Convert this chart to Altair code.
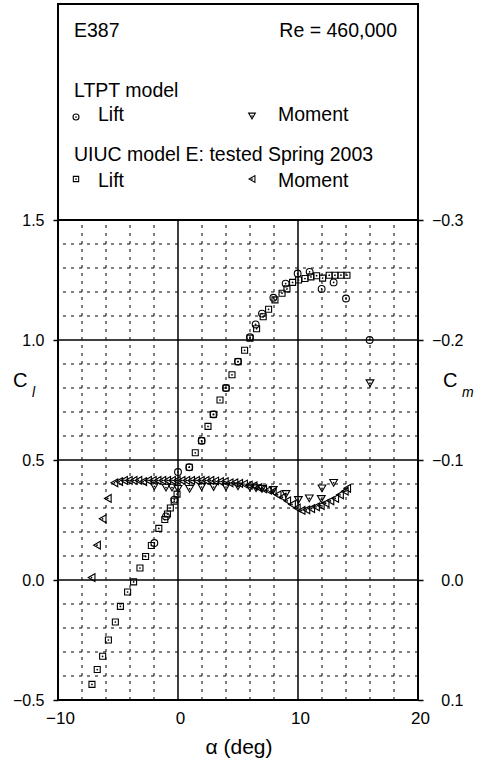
import altair as alt
import pandas as pd

FONT = "Liberation Sans"

# ---------------- data ----------------
uiuc_lift_alpha = [-7.17, -6.73, -6.28, -5.80, -5.22, -4.80, -4.20, -3.70, -3.17, -2.70,
                   -2.22, -1.60, -1.10, -0.88, -0.64, -0.32, -0.08, 0.94, 1.44, 1.97,
                   2.50, 2.94, 3.50, 4.00, 4.50, 5.00, 5.55, 6.00, 6.55, 7.10,
                   7.55, 8.08, 8.67, 9.08, 9.55, 10.05, 10.58, 11.08, 11.55, 12.05,
                   12.60, 13.08, 13.58, 14.08]
uiuc_lift_cl = [-0.435, -0.373, -0.318, -0.250, -0.175, -0.110, -0.050, -0.008, 0.050, 0.098,
                0.144, 0.215, 0.252, 0.275, 0.300, 0.328, 0.358, 0.470, 0.530, 0.580,
                0.640, 0.690, 0.750, 0.800, 0.855, 0.910, 0.957, 1.008, 1.047, 1.097,
                1.128, 1.167, 1.195, 1.213, 1.240, 1.250, 1.256, 1.263, 1.268, 1.258,
                1.270, 1.270, 1.270, 1.270]

ltpt_lift_alpha = [-1.97, -1.00, -0.30, 0.00, 0.94, 1.97, 2.97, 4.00, 5.00, 6.00,
                   6.47, 7.00, 7.95, 8.97, 9.97, 10.97, 11.97, 12.97, 14.00, 15.97]
ltpt_lift_cl = [0.154, 0.265, 0.335, 0.450, 0.470, 0.580, 0.690, 0.800, 0.910, 1.012,
                1.065, 1.110, 1.176, 1.235, 1.277, 1.284, 1.213, 1.240, 1.173, 1.000]

ltpt_mom_alpha = [-1.97, -1.00, -0.50, 0.00, 0.97, 1.97, 2.97, 4.00, 5.00, 6.00,
                  6.50, 7.00, 7.94, 9.00, 10.03, 10.94, 11.94, 12.00, 12.97, 16.00]
ltpt_mom_cm = [-0.078, -0.077, -0.077, -0.076, -0.076, -0.0775, -0.0775, -0.0775, -0.078, -0.077,
               -0.0765, -0.076, -0.075, -0.0717, -0.0667, -0.068, -0.0675, -0.0764, -0.081, -0.164]

uiuc_mom_alpha = [-7.20, -6.75, -6.28, -5.85, -5.30, -4.90, -4.50, -4.10, -3.70, -3.30,
                  -2.90, -2.50, -2.10, -1.70, -1.30, -0.90, -0.50, -0.10, 0.30, 0.70,
                  1.10, 1.50, 1.90, 2.30, 2.70, 3.10, 3.50, 3.90, 4.30, 4.70,
                  5.10, 5.50, 5.90, 6.30, 6.70, 7.10, 7.50, 7.90, 8.30, 8.70,
                  9.10, 9.50, 9.90, 10.30, 10.70, 11.10, 11.50, 11.90, 12.30, 12.70,
                  13.10, 13.50, 13.90, 14.10]
uiuc_mom_cm = [-0.002, -0.029, -0.051, -0.068, -0.081, -0.082, -0.083, -0.083, -0.083, -0.083,
               -0.082, -0.083, -0.083, -0.083, -0.083, -0.083, -0.083, -0.083, -0.083, -0.083,
               -0.083, -0.083, -0.083, -0.083, -0.083, -0.0825, -0.082, -0.082, -0.081, -0.081,
               -0.0805, -0.080, -0.079, -0.0785, -0.077, -0.076, -0.0748, -0.0736, -0.071, -0.069,
               -0.066, -0.063, -0.060, -0.058, -0.0585, -0.0595, -0.061, -0.062, -0.064, -0.066,
               -0.068, -0.071, -0.074, -0.0764]

# grid / tick values
x_grid_dashed = [-8, -6, -4, -2, 2, 4, 6, 8, 12, 14, 16, 18]
x_grid_solid = [0, 10]
cl_grid_dashed = [-0.4, -0.3, -0.2, -0.1, 0.1, 0.2, 0.3, 0.4, 0.6, 0.7, 0.8, 0.9,
                  1.1, 1.2, 1.3, 1.4]
cl_grid_solid = [0.0, 0.5, 1.0]
cl_box_line = [1.5]
x_ticks = [-10, 0, 10, 20]
cl_ticks = [-0.5, 0.0, 0.5, 1.0, 1.5]
cm_ticks = [-0.3, -0.2, -0.1, 0.0, 0.1]

# ---------------- chart ----------------
W, H = 360, 696
xscale = alt.Scale(domain=[-10, 20], nice=False, zero=False)
clscale = alt.Scale(domain=[-0.5, 2.4], nice=False, zero=False)
cmscale = alt.Scale(domain=[-0.48, 0.1], reverse=True, nice=False, zero=False)

df_ul = pd.DataFrame({"a": uiuc_lift_alpha, "v": uiuc_lift_cl})
df_ll = pd.DataFrame({"a": ltpt_lift_alpha, "v": ltpt_lift_cl})
df_lm = pd.DataFrame({"a": ltpt_mom_alpha, "v": ltpt_mom_cm})
df_um = pd.DataFrame({"a": uiuc_mom_alpha, "v": uiuc_mom_cm})

common_axis = dict(title=None, grid=False, domain=False, tickColor="black",
                   tickWidth=1.5, labelFont=FONT, labelColor="black",
                   labelOverlap=False, labelFlush=False)
x_axis = alt.Axis(values=x_ticks, format="d", orient="bottom", ticks=False, tickSize=0,
                  labelPadding=10, labelFontSize=17, labelAlign="center", labelOffset=2,
                  **common_axis)
cl_axis = alt.Axis(values=cl_ticks, format=".1f", orient="left", tickSize=5,
                   labelPadding=9, labelFontSize=16, **common_axis)
cm_axis = alt.Axis(values=cm_ticks, format=".1f", orient="right", tickSize=5,
                   labelPadding=40, labelFontSize=16, labelAlign="right", **common_axis)


def X(field):
    # every layer that uses the shared x scale carries the same axis definition
    return alt.X(field, scale=xscale, axis=x_axis)


# grid lines
g_xd = alt.Chart(pd.DataFrame({"v": x_grid_dashed})).mark_rule(
    color="black", strokeWidth=1, strokeDash=[3, 5]).encode(
    x=X("v:Q"),
    y=alt.YDatum(-0.5, scale=clscale, axis=None), y2=alt.Y2Datum(1.5))
g_xs = alt.Chart(pd.DataFrame({"v": x_grid_solid})).mark_rule(
    color="black", strokeWidth=1.5).encode(
    x=X("v:Q"),
    y=alt.YDatum(-0.5, scale=clscale, axis=None), y2=alt.Y2Datum(1.5))
g_yd = alt.Chart(pd.DataFrame({"v": cl_grid_dashed})).mark_rule(
    color="black", strokeWidth=1, strokeDash=[3, 5]).encode(
    y=alt.Y("v:Q", scale=clscale, axis=None))
g_ys = alt.Chart(pd.DataFrame({"v": cl_grid_solid})).mark_rule(
    color="black", strokeWidth=1.5).encode(
    y=alt.Y("v:Q", scale=clscale, axis=None))
g_box = alt.Chart(pd.DataFrame({"v": cl_box_line})).mark_rule(
    color="black", strokeWidth=2).encode(
    y=alt.Y("v:Q", scale=clscale, axis=None))


def series(df, yscale, shape, size, yaxis=None):
    outline = alt.Chart(df).mark_point(
        shape=shape, size=size, filled=False, color="black", strokeWidth=1.1, opacity=1
    ).encode(x=X("a:Q"), y=alt.Y("v:Q", scale=yscale, axis=yaxis))
    dot = alt.Chart(df).mark_point(
        shape="circle", size=3, filled=True, color="black", opacity=1
    ).encode(x=X("a:Q"), y=alt.Y("v:Q", scale=yscale, axis=None))
    return [outline, dot]


def txt(s, x, y, size=19.5, align="left", style="normal"):
    return alt.Chart(alt.Data(values=[{}])).mark_text(
        text=s, font=FONT, fontSize=size, align=align, baseline="alphabetic",
        fontStyle=style, color="black").encode(x=alt.value(x), y=alt.value(y))


def key(shape, x, y, size):
    d = alt.Data(values=[{}])
    o = alt.Chart(d).mark_point(shape=shape, size=size, filled=False, color="black",
                                strokeWidth=1.1, opacity=1).encode(
        x=alt.value(x), y=alt.value(y))
    c = alt.Chart(d).mark_point(shape="circle", size=3, filled=True, color="black",
                                opacity=1).encode(x=alt.value(x), y=alt.value(y))
    return [o, c]


layers = [g_xd, g_xs, g_yd, g_ys, g_box]
layers += series(df_ul, clscale, "square", 36, yaxis=cl_axis)
layers += series(df_ll, clscale, "circle", 46)
layers += series(df_lm, cmscale, "triangle-down", 60, yaxis=cm_axis)
layers += series(df_um, cmscale, "triangle-left", 60)

layers += [
    txt("E387", 16, 33),
    txt("Re = 460,000", 339, 33, align="right"),
    txt("LTPT model", 16, 93),
    txt("Lift", 40, 117),
    txt("Moment", 220, 117),
    txt("UIUC model E: tested Spring 2003", 16, 157),
    txt("Lift", 40, 183),
    txt("Moment", 220, 183),
    txt("C", -45, 383, size=20),
    txt("l", -26, 393, size=14, style="italic"),
    txt("C", 385, 383, size=20),
    txt("m", 404, 393, size=14, style="italic"),
    txt("\u03b1 (deg)", 181, 750, size=21, align="center"),
]
layers += key("circle", 18, 113, 36)
layers += key("triangle-down", 194, 112, 45)
layers += key("square", 18, 175, 28)
layers += key("triangle-left", 194, 175, 45)

chart = alt.layer(*layers).resolve_scale(
    y="independent"
).properties(
    width=W, height=H,
    autosize=alt.AutoSizeParams(type="none"),
    padding={"left": 58, "top": 4, "right": 73, "bottom": 70},
    background="white",
).configure_view(stroke="black", strokeWidth=2)

chart.save("out.html", embed_options={"renderer": "svg", "actions": False})
